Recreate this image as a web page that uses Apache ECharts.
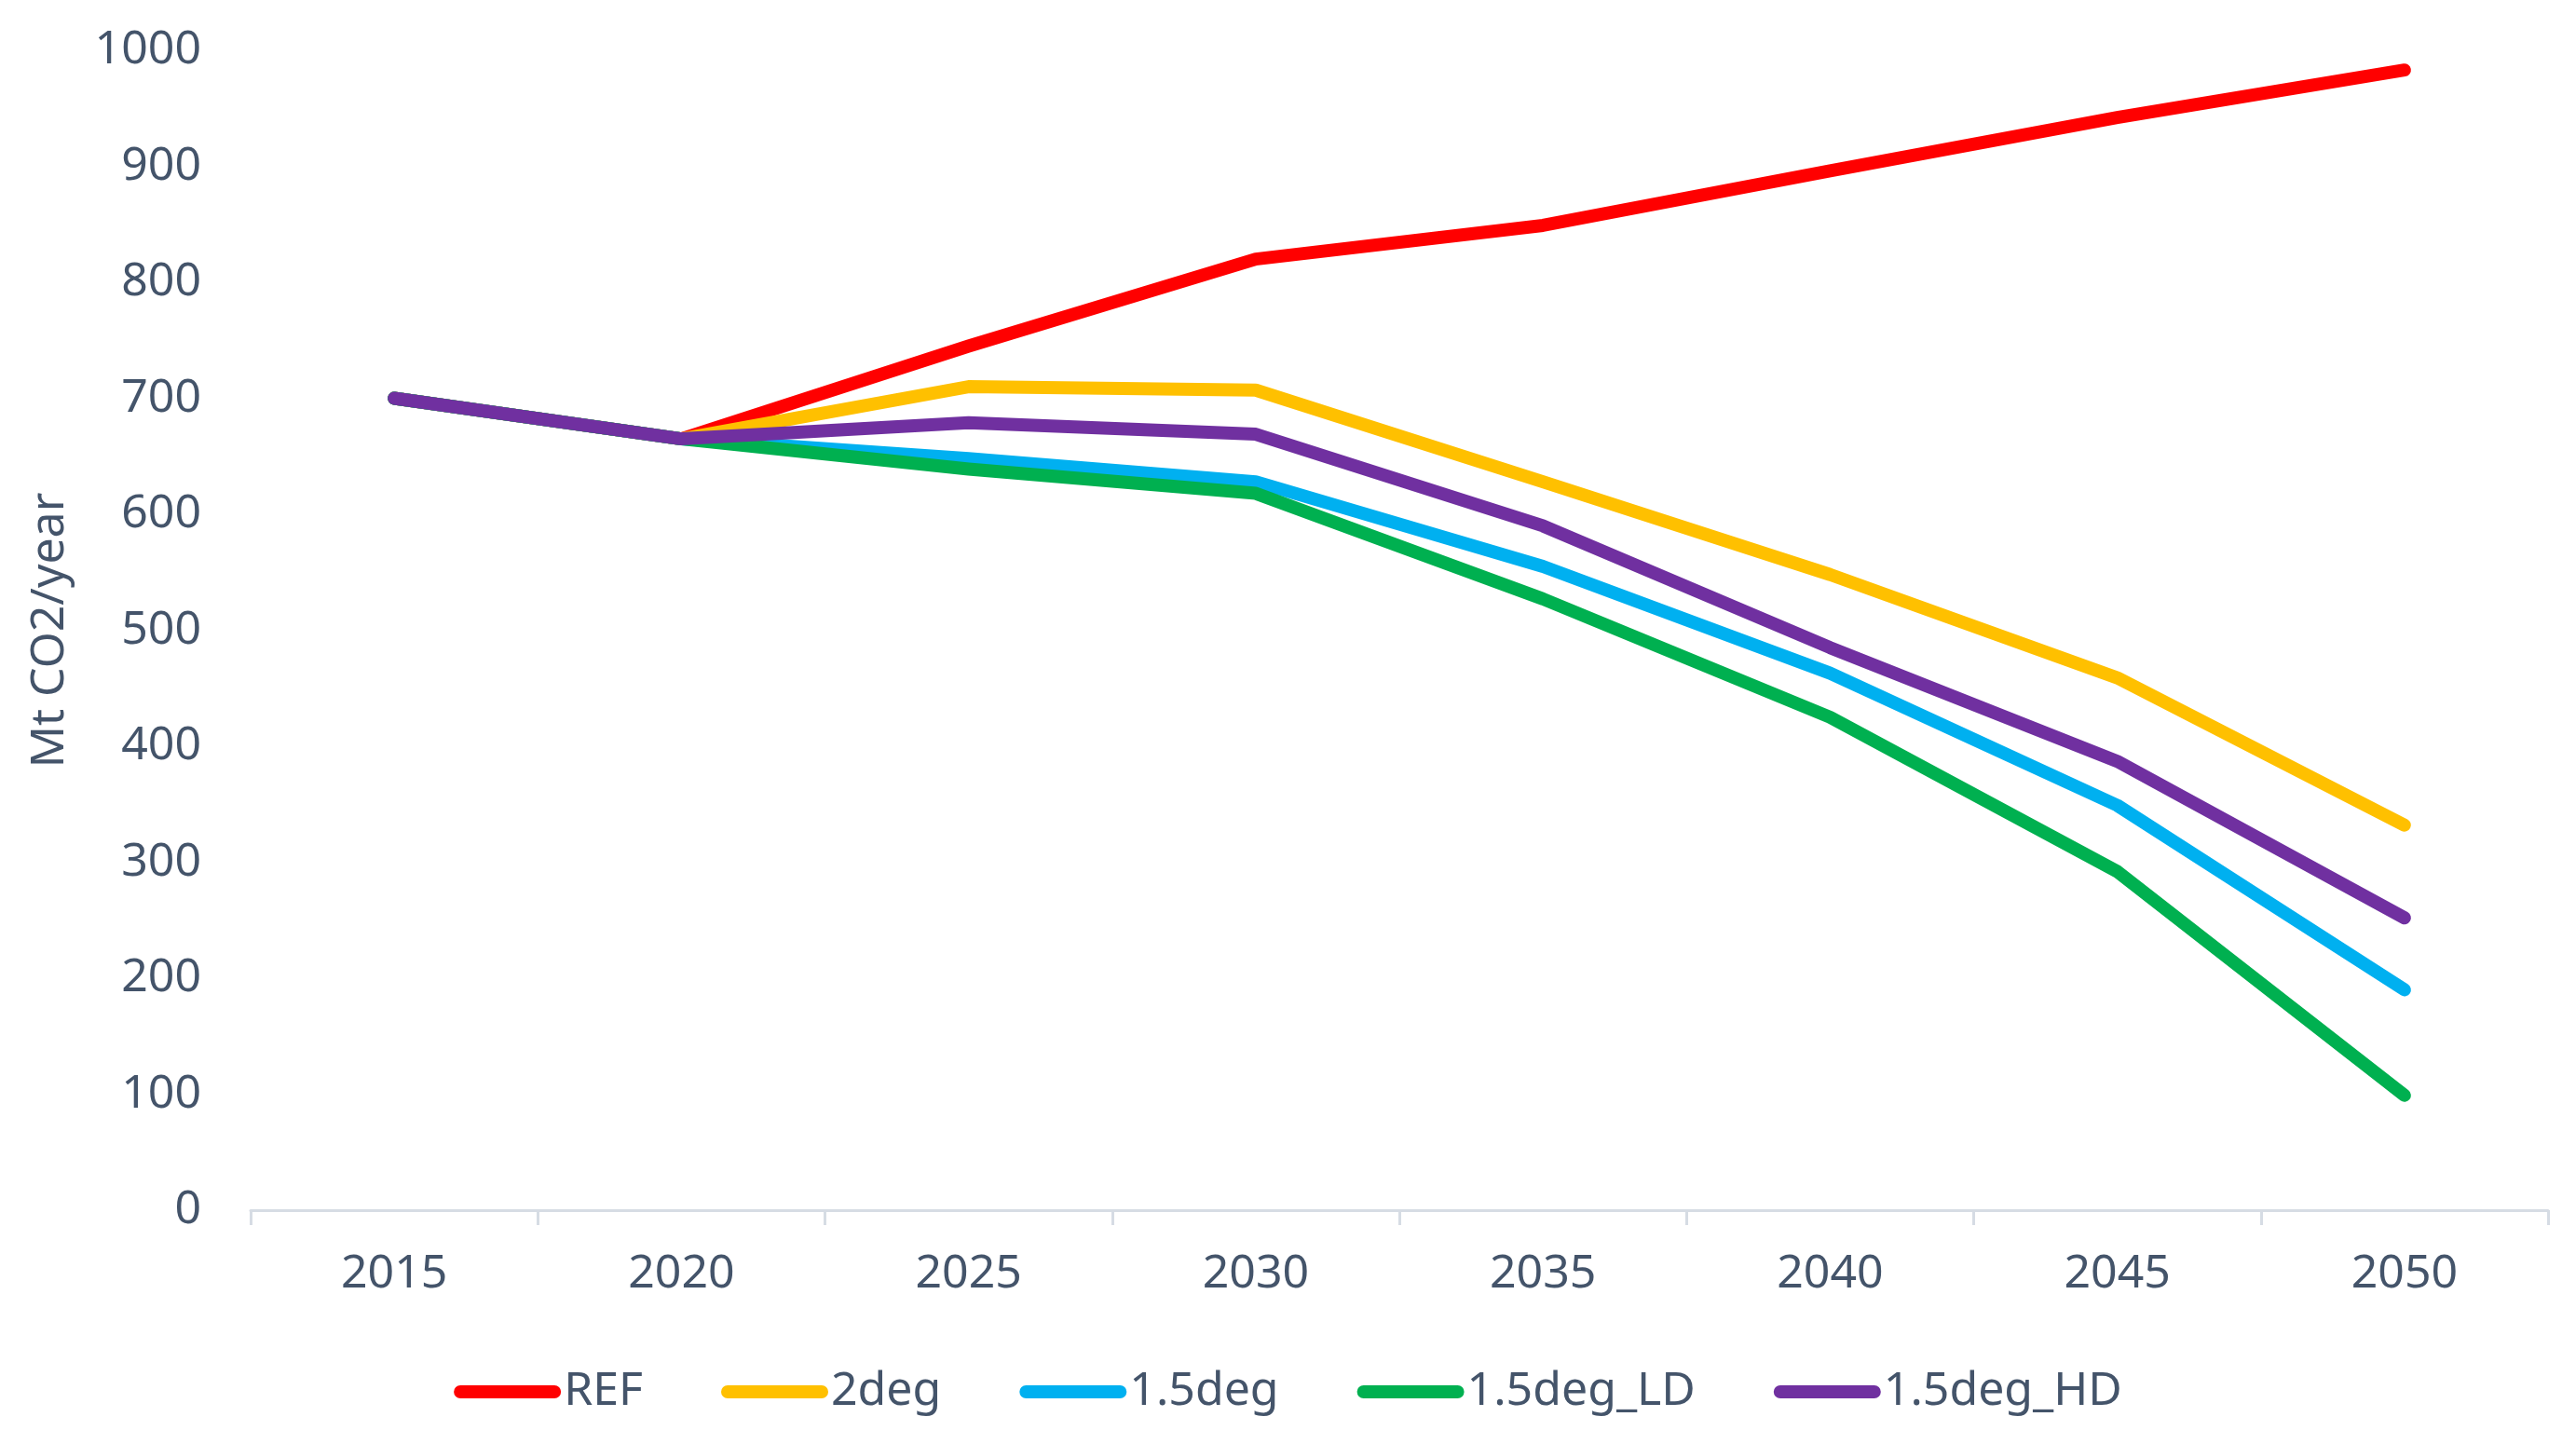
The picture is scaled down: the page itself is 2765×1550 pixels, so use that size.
<!DOCTYPE html>
<html>
<head>
<meta charset="utf-8">
<script src="https://cdn.jsdelivr.net/npm/echarts@6/dist/echarts.min.js"></script>
<style>
html,body{margin:0;padding:0;background:#fff;}
#chart{width:2765px;height:1550px;}
</style>
</head>
<body>
<div id="chart"></div>
<script>
const years = ['2015','2020','2025','2030','2035','2040','2045','2050'];
const seriesNames = ['REF','2deg','1.5deg','1.5deg_LD','1.5deg_HD'];
const refValues   = [700, 665, 745, 820, 849, 896, 942, 983];
const deg2Values  = [700, 665, 710, 707, 628, 548, 459, 332];
const deg15Values = [700, 665, 648, 628, 555, 463, 349, 190];
const ldValues    = [700, 665, 639, 618, 527, 425, 292, 99];
const hdValues    = [700, 665, 679, 669, 590, 485, 387, 252];
const colors = ['#FF0000','#FFC000','#00B0F0','#00B050','#7030A0'];
const yTitle = 'Mt CO2/year';

const allValues = [refValues, deg2Values, deg15Values, ldValues, hdValues];
const textColor = '#44546A';
const font = 'Noto Sans';

const chart = echarts.init(document.getElementById('chart'));
chart.setOption({
  animation: false,
  backgroundColor: '#ffffff',
  grid: {left: 269, right: 30, top: 54, bottom: 251, containLabel: false},
  legend: {
    bottom: 26,
    left: 'center',
    itemWidth: 115,
    itemHeight: 14,
    itemGap: 84,
    icon: 'path://M7,0H108A7,7,0,0,1,108,14H7A7,7,0,0,1,7,0Z',
    textStyle: {color: textColor, fontSize: 50, fontFamily: font, padding: [0,0,0,-2]},
    data: seriesNames
  },
  xAxis: {
    type: 'category',
    data: years,
    boundaryGap: true,
    axisLine: {show: true, lineStyle: {color: '#D6DCE4', width: 3}},
    axisTick: {show: true, length: 16, lineStyle: {color: '#D6DCE4', width: 3}},
    axisLabel: {color: textColor, fontSize: 50, fontFamily: font, margin: 44},
    splitLine: {show: false}
  },
  yAxis: {
    type: 'value',
    min: 0, max: 1000, interval: 100,
    name: yTitle,
    nameLocation: 'middle',
    nameGap: 190,
    nameTextStyle: {color: textColor, fontSize: 50, fontFamily: font},
    axisLine: {show: false},
    axisTick: {show: false},
    splitLine: {show: false},
    axisLabel: {color: textColor, fontSize: 50, fontFamily: font, margin: 53, formatter: v => String(v)}
  },
  series: seriesNames.map((n, i) => ({
    name: n,
    type: 'line',
    data: allValues[i],
    symbol: 'none',
    smooth: false,
    lineStyle: {color: colors[i], width: 14, cap: 'round', join: 'round'},
    itemStyle: {color: colors[i]}
  }))
});
</script>
</body>
</html>
